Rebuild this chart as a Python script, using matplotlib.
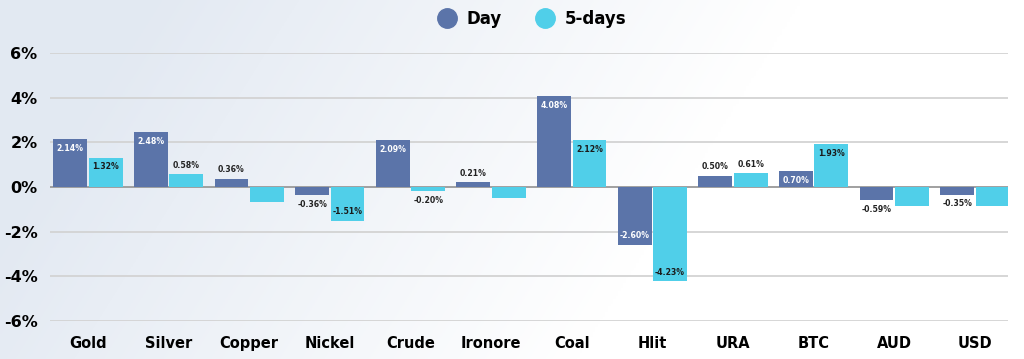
import numpy as np
import matplotlib.pyplot as plt

categories = ['Gold', 'Silver', 'Copper', 'Nickel', 'Crude', 'Ironore', 'Coal',
              'Hlit', 'URA', 'BTC', 'AUD', 'USD']
day = [2.14, 2.48, 0.36, -0.36, 2.09, 0.21, 4.08, -2.60, 0.50, 0.70, -0.59, -0.35]
five_days = [1.32, 0.58, -0.67, -1.51, -0.20, -0.50, 2.12, -4.23, 0.61, 1.93, -0.85, -0.85]
five_days_shown = [True, True, False, True, True, False, True, True, True, True, False, False]
yticks = [-6, -4, -2, 0, 2, 4, 6]

c_day = '#5b74a9'
c_5d = '#50cfe9'
plt.rcParams['font.family'] = ['DejaVu Sans']

fig = plt.figure(figsize=(10.24, 3.59), dpi=100)

# soft diagonal background gradient (bluish bottom-left -> white top-right)
bg = fig.add_axes([0, 0, 1, 1], zorder=-10)
gx, gy = np.meshgrid(np.linspace(0, 1, 400), np.linspace(0, 1, 140))
t = np.clip(1 - (gx * 1.6 + (1 - gy) * -0.35 + 0.1), 0, 1)
base = np.array([0.89, 0.915, 0.95])
rgb = 1 - (1 - base)[None, None, :] * t[:, :, None]
bg.imshow(rgb, aspect='auto', extent=[0, 1, 0, 1], origin='upper')
bg.axis('off')

ax = fig.add_axes([50 / 1024, 1 - 321 / 359, (1008 - 50) / 1024, (321 - 53) / 359])
ax.patch.set_alpha(0)

x = np.arange(len(categories))
w = 0.42
off = 0.22
ax.bar(x - off, day, w, color=c_day, zorder=3)
ax.bar(x + off, five_days, w, color=c_5d, zorder=3)

ax.set_ylim(-6, 6)
ax.set_xlim(-0.47, 11.41)
ax.set_yticks(yticks)
ax.set_yticklabels([f'{t}%' for t in yticks], fontsize=11.5, fontweight='bold')
for t in yticks:
    ax.axhline(t, color='#999999' if t == 0 else '#d3d3d3', lw=1.3, zorder=1)
ax.set_xticks(x)
ax.set_xticklabels(categories, fontsize=10.5, fontweight='bold')
ax.tick_params(axis='both', length=0)
ax.tick_params(axis='x', pad=11)
ax.tick_params(axis='y', pad=9)
for s in ax.spines.values():
    s.set_visible(False)


def label(xpos, v, inside, color):
    txt = f'{v:.2f}%'
    kw = dict(ha='center', fontsize=5.6, fontweight='bold', zorder=4)
    if inside:
        if v > 0:
            ax.text(xpos, v - 0.22, txt, va='top', color=color, **kw)
        else:
            ax.text(xpos, v + 0.22, txt, va='bottom', color=color, **kw)
    else:
        if v > 0:
            ax.text(xpos, v + 0.2, txt, va='bottom', color='#222222', **kw)
        else:
            ax.text(xpos, v - 0.2, txt, va='top', color='#222222', **kw)


for i in range(len(categories)):
    label(x[i] - off, day[i], abs(day[i]) >= 0.65, 'white')
    if five_days_shown[i]:
        label(x[i] + off, five_days[i], abs(five_days[i]) >= 0.65, '#1a1a1a')

# legend
fig.legend(handles=[plt.Line2D([], [], marker='o', ls='', color=c_day, markersize=14, label='Day'),
                    plt.Line2D([], [], marker='o', ls='', color=c_5d, markersize=14, label='5-days')],
           loc='center', bbox_to_anchor=(0.516, 1 - 19 / 359), ncol=2, frameon=False,
           prop={'weight': 'bold', 'size': 12}, handletextpad=0.2, columnspacing=1.6)

fig.savefig('out.png', dpi=100)
